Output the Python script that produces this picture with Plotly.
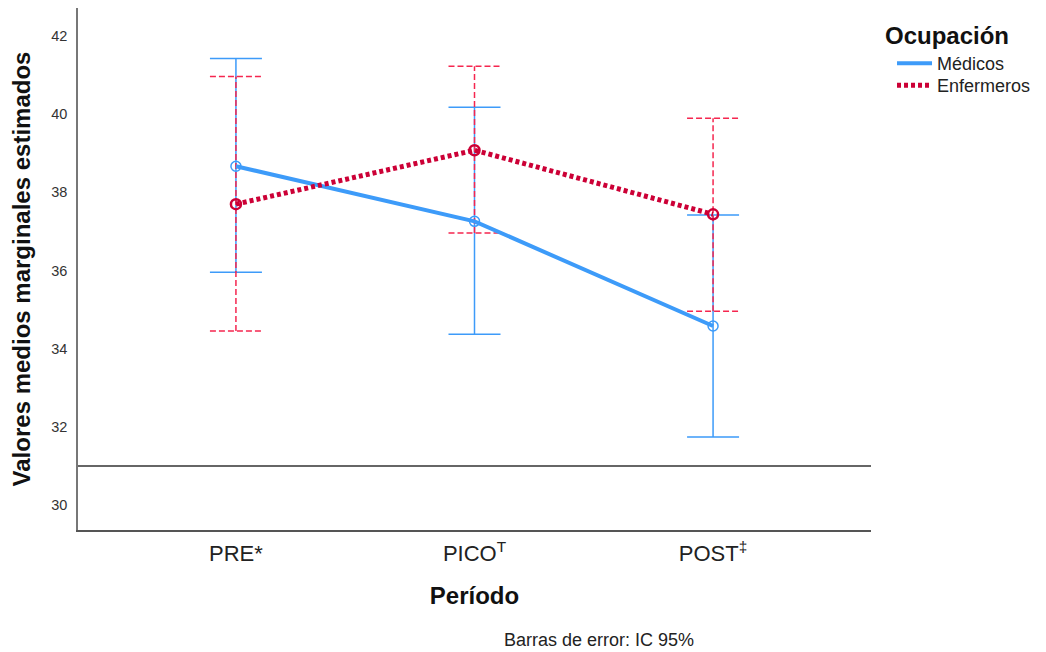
import plotly.graph_objects as go

periods = ["PRE*", "PICO<sup>T</sup>", "POST<sup>‡</sup>"]
xpos = [0, 1, 2]

med_mean = [38.67, 37.26, 34.58]
med_upper = [41.43, 40.18, 37.42]
med_lower = [35.96, 34.37, 31.74]

enf_mean = [37.70, 39.08, 37.44]
enf_upper = [40.97, 41.23, 39.90]
enf_lower = [34.45, 36.96, 34.96]

yticks = [30, 32, 34, 36, 38, 40, 42]
ref_line = 31

blue = "#3d9bf9"
red_line = "#cc0036"
red_err = "#f5264f"
cap = 0.109

fig = go.Figure()

# Médicos error bars (solid)
fig.add_trace(go.Scatter(
    x=xpos, y=med_mean, mode="markers", showlegend=False, hoverinfo="skip",
    marker=dict(size=1, color="rgba(0,0,0,0)"),
    error_y=dict(type="data", symmetric=False,
                 array=[u - m for u, m in zip(med_upper, med_mean)],
                 arrayminus=[m - l for m, l in zip(med_mean, med_lower)],
                 color=blue, thickness=1.5, width=26),
))

# Enfermeros error bars (dashed) built from data
ex, ey = [], []
for x, lo, hi in zip(xpos, enf_lower, enf_upper):
    ex += [x, x, None, x - cap, x + cap, None, x - cap, x + cap, None]
    ey += [lo, hi, None, lo, lo, None, hi, hi, None]
fig.add_trace(go.Scatter(
    x=ex, y=ey, mode="lines", showlegend=False, hoverinfo="skip",
    line=dict(color=red_err, width=1.5, dash="6px,3px"),
))

fig.add_trace(go.Scatter(
    x=xpos, y=med_mean, mode="lines+markers", name="Médicos", showlegend=False,
    line=dict(color=blue, width=4),
    marker=dict(symbol="circle-open", size=10, color=blue, line=dict(width=1.5)),
))
fig.add_trace(go.Scatter(
    x=xpos, y=enf_mean, mode="lines+markers", name="Enfermeros", showlegend=False,
    line=dict(color=red_line, width=5, dash="4px,3px"),
    marker=dict(symbol="circle-open", size=10, color=red_line, line=dict(width=2.5)),
))

# legend entries
fig.add_trace(go.Scatter(x=[None], y=[None], mode="lines", name="Médicos", legend="legend",
                         line=dict(color=blue, width=4)))
fig.add_trace(go.Scatter(x=[None], y=[None], mode="lines", name="Enfermeros", legend="legend2",
                         line=dict(color=red_line, width=5, dash="4px,3px")))

fig.add_shape(type="line", xref="paper", yref="y", x0=0, x1=1, y0=ref_line, y1=ref_line,
              line=dict(color="#333333", width=1.5))

legend_common = dict(xanchor="left", yanchor="top", font=dict(size=18, color="#222222"),
                     itemwidth=35, bgcolor="rgba(0,0,0,0)")

fig.update_layout(
    width=1038, height=644,
    margin=dict(l=70, r=175, t=0, b=122),
    plot_bgcolor="white", paper_bgcolor="white",
    font=dict(family="Liberation Sans, Arial, sans-serif", color="#111111"),
    xaxis=dict(
        tickvals=xpos, ticktext=periods, range=[-0.662, 2.662], automargin=False,
        showgrid=False, zeroline=False, showline=True, linecolor="#555555", linewidth=1.5,
        tickfont=dict(size=22, color="#222222"), ticks="", ticklabelstandoff=3,
        title=dict(text="<b>Período</b>", font=dict(size=24, color="#111111"), standoff=22),
    ),
    yaxis=dict(
        tickvals=yticks, range=[29.36, 42.72], automargin=False,
        showgrid=False, zeroline=False, showline=True, linecolor="#777777", linewidth=1.5,
        tickfont=dict(size=14.5, color="#333333"), ticks="", ticklabelstandoff=6,
        title=dict(text="<b>Valores medios marginales estimados</b>", font=dict(size=24, color="#111111"), standoff=16),
    ),
    legend=dict(x=1.0265, y=0.9291, **legend_common),
    legend2=dict(x=1.0265, y=0.887, **legend_common),
    annotations=[
        dict(text="<b>Ocupación</b>", xref="paper", yref="paper",
             x=1.0151, y=0.948, xanchor="left", yanchor="middle", showarrow=False,
             font=dict(size=24, color="#111111")),
        dict(text="Barras de error: IC 95%", xref="paper", yref="paper",
             x=(494 - 70) / 793, y=1 - 632 / 522, xanchor="left", yanchor="middle", showarrow=False,
             font=dict(size=18, color="#222222")),
    ],
)

fig.write_html("out.html")
